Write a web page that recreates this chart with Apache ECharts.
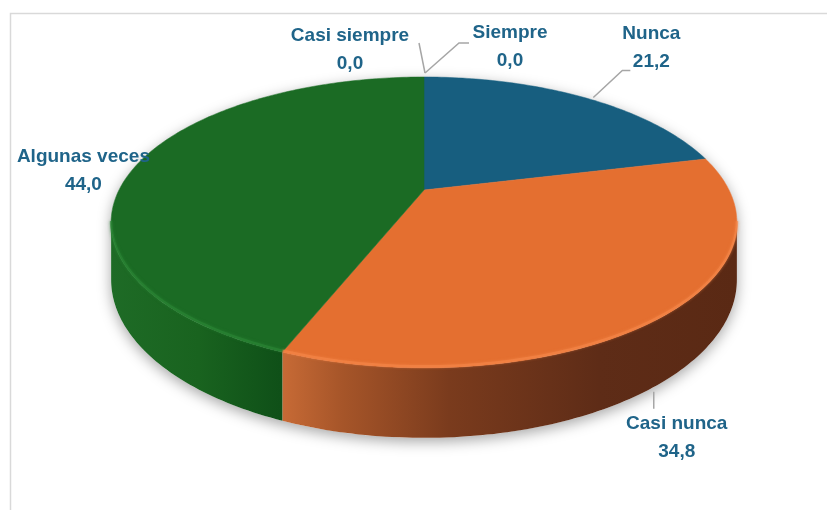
<!DOCTYPE html>
<html>
<head>
<meta charset="utf-8">
<script src="https://cdn.jsdelivr.net/npm/echarts@6/dist/echarts.min.js"></script>
<style>
html,body{margin:0;padding:0;background:#fff;}
#chart{width:827px;height:510px;}
</style>
</head>
<body>
<div id="chart"></div>
<script>
// ---- data ----
const categories = ['Nunca', 'Casi nunca', 'Algunas veces', 'Casi siempre', 'Siempre'];
const values = [21.2, 34.8, 44.0, 0.0, 0.0];

// ---- styles ----
const topColors = ['#175E7F', '#E46F30', '#1B6B24', '#A5A5A5', '#FFC000'];
const rimColors = ['#2A7AA0', '#F5874A', '#2C8535', '#BBBBBB', '#FFD040'];
const sideStops = [
  [[0, '#0F4560'], [1, '#0B3448']],
  [[0.27, '#C86B36'], [0.37, '#A65529'], [0.54, '#7A3B1D'], [0.78, '#5E2C17'], [1, '#5A2914']],
  [[0, '#1E6B26'], [0.14, '#19631F'], [0.27, '#0F5018'], [1, '#0F5018']],
  [[0, '#777777'], [1, '#555555']],
  [[0, '#B08500'], [1, '#806000']]
];
// label layout: label centre relative to anchor, leader points relative to anchor
const labelLayout = [
  { dx: 67, dy: -50, line: [[9, 0], [38, -27], [46, -27]] },
  { dx: 12, dy: 57, line: [[-11, 11], [-11, 28]], anchorBottom: true },
  { dx: -53, dy: 6, line: null },
  { dx: -74, dy: -27, line: [[1, -4], [-5, -34]] },
  { dx: 86, dy: -30, line: [[1, -4], [35, -34], [45, -34]] }
];

// ---- 3D pie projection (perspective) ----
const G = { cx: 424, cy: 190, A: 305, B: 138.2, p: 0.223, H: 54.4 };
function proj(deg, bottom) {
  const r = deg * Math.PI / 180;
  const X = Math.sin(r), Z = Math.cos(r);
  const s = 1 / (1 + G.p * Z);
  return [G.cx + G.A * X * s, G.cy - G.B * Z * s + (bottom ? G.H * s : 0)];
}
function arcPts(a1, a2, bottom) {
  const pts = [];
  const n = Math.max(2, Math.ceil(Math.abs(a2 - a1) / 1));
  for (let i = 0; i <= n; i++) pts.push(proj(a1 + (a2 - a1) * i / n, bottom));
  return pts;
}
const visA = Math.acos(-G.p) * 180 / Math.PI;   // ~102.9
const visB = 360 - visA;                          // ~257.1
const xL = proj(visB, false)[0], xR = proj(visA, false)[0];

const total = values.reduce((a, b) => a + b, 0);
function fmt(v) { return v.toFixed(1).replace('.', ','); }

function renderSlice(params, api) {
  const i = params.dataIndex;
  const v = api.value(0);
  let before = 0;
  for (let k = 0; k < i; k++) before += values[k];
  const a1 = before / total * 360;
  const a2 = (before + v) / total * 360;
  const children = [];
  if (v > 0) {
    // side wall
    const s = Math.max(a1, visA), e = Math.min(a2, visB);
    if (e > s) {
      const top = arcPts(s, e, false);
      const bot = arcPts(e, s, true);
      children.push({
        type: 'polygon', z2: 1,
        shape: { points: top.concat(bot) },
        style: {
          fill: {
            type: 'linear', x: xL, y: 0, x2: xR, y2: 0, global: true,
            colorStops: sideStops[i].map(st => ({ offset: st[0], color: st[1] }))
          }
        }
      });
      children.push({
        type: 'polyline', z2: 3,
        shape: { points: arcPts(s, e, false).map(p => [p[0], p[1] - 1.5]) },
        style: { stroke: rimColors[i], lineWidth: 2.5, fill: null, opacity: 0.6,
                 shadowBlur: 3, shadowColor: rimColors[i] }
      });
    }
    // top face
    const pts = [[G.cx, G.cy]].concat(arcPts(a1, a2, false));
    children.push({
      type: 'polygon', z2: 2,
      shape: { points: pts },
      style: { fill: topColors[i], stroke: topColors[i], lineWidth: 0.5 }
    });
  }
  // label
  const mid = (a1 + a2) / 2;
  const L = labelLayout[i];
  let anc = proj(mid, !!L.anchorBottom);
  children.push({
    type: 'text', z2: 5,
    style: {
      text: categories[i] + '\n' + fmt(v),
      x: anc[0] + L.dx, y: anc[1] + L.dy,
      align: 'center', verticalAlign: 'middle',
      fill: '#1F6489', fontSize: 19, fontWeight: 'bold',
      fontFamily: '"Liberation Sans", Arial, sans-serif', lineHeight: 28
    }
  });
  if (L.line) {
    children.push({
      type: 'polyline', z2: 4,
      shape: { points: L.line.map(q => [anc[0] + q[0], anc[1] + q[1]]) },
      style: { stroke: '#A6A6A6', lineWidth: 1.5, fill: null }
    });
  }
  return { type: 'group', children: children };
}

function renderShadow(params, api) {
  const outline = arcPts(visB - 360, visA, false).concat(arcPts(visA, visB, true));
  return {
    type: 'polygon', z2: 0,
    shape: { points: outline },
    style: { fill: '#ffffff', shadowBlur: 14, shadowColor: 'rgba(0,0,0,0.35)', shadowOffsetY: 4 }
  };
}

const chart = echarts.init(document.getElementById('chart'), null, { renderer: 'canvas' });
chart.setOption({
  animation: false,
  backgroundColor: '#ffffff',
  graphic: [{
    type: 'rect', z: -10,
    shape: { x: 10.5, y: 13.5, width: 900, height: 600 },
    style: { fill: null, stroke: '#D9D9D9', lineWidth: 1.5 }
  }],
  series: [
    {
      type: 'custom', coordinateSystem: 'none', z: 1,
      data: [total],
      renderItem: renderShadow, silent: true
    },
    {
      type: 'custom', coordinateSystem: 'none', z: 2,
      data: values.map((v, i) => ({ name: categories[i], value: v })),
      renderItem: renderSlice
    }
  ]
});
</script>
</body>
</html>
